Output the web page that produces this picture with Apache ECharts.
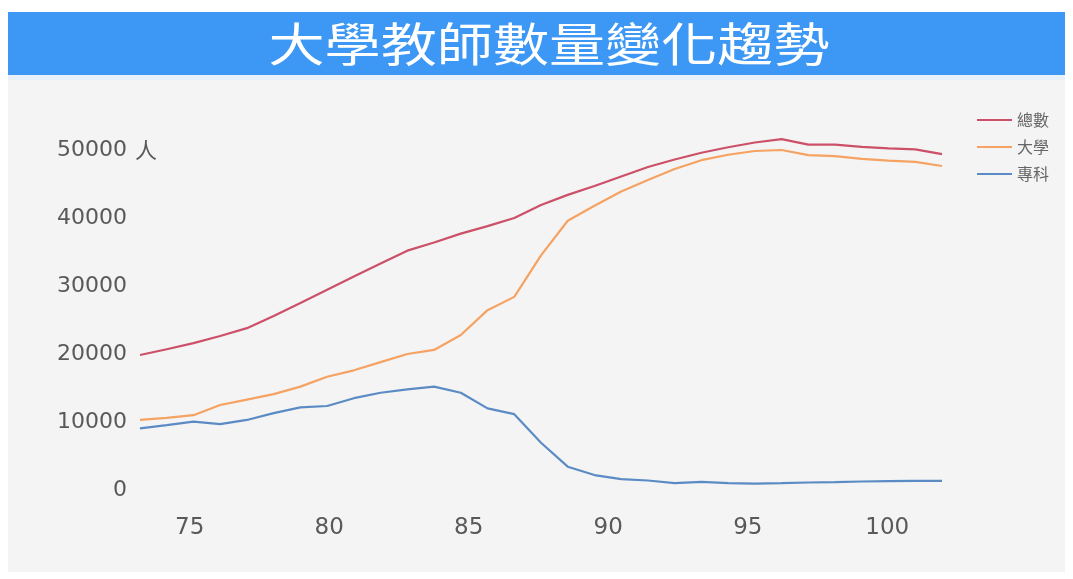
<!DOCTYPE html>
<html>
<head>
<meta charset="utf-8">
<script src="https://cdn.jsdelivr.net/npm/echarts@6/dist/echarts.min.js"></script>
<style>
html,body{margin:0;padding:0;background:#ffffff;}
#chart{width:1073px;height:579px;}
</style>
</head>
<body>
<div id="chart"></div>
<script>
// Academic years (ROC calendar)
const years = ['73','74','75','76','77','78','79','80','81','82','83','84','85','86','87','88','89','90','91','92','93','94','95','96','97','98','99','100','101','102','103'];
// 總數
const total = [19850,20700,21600,22650,23800,25600,27500,29450,31400,33300,35200,36400,37700,38800,40000,41900,43400,44700,46100,47500,48600,49600,50400,51100,51600,50800,50800,50450,50250,50100,49400];
// 大學
const univ = [10300,10600,11000,12500,13300,14100,15200,16650,17600,18800,20000,20600,22800,26450,28400,34500,39600,41800,43900,45600,47200,48500,49300,49850,50000,49250,49100,48700,48450,48250,47650];
// 專科
const junior = [9070,9550,10050,9700,10300,11300,12150,12350,13500,14300,14800,15200,14300,12000,11150,6950,3430,2200,1600,1400,1000,1200,1000,950,1000,1100,1150,1250,1300,1330,1350];
const seriesNames = ['總數','大學','專科'];
const titleText = '大學教師數量變化趨勢';
const unitText = '人';

const FONT = '"DejaVu Sans", "Noto Sans CJK TC", sans-serif';
const CJK = '"Noto Sans CJK TC", sans-serif';
const chart = echarts.init(document.getElementById('chart'), null, {renderer:'canvas'});
chart.setOption({
  backgroundColor: '#ffffff',
  animation: false,
  textStyle: {fontFamily: FONT},
  graphic: [
    {type:'rect', z:-10, shape:{x:8,y:12,width:1057,height:63}, style:{fill:'#3d97f4'}},
    {type:'rect', z:-10, shape:{x:8,y:75,width:1057,height:5}, style:{fill:'#e8f1fa'}},
    {type:'rect', z:-10, shape:{x:8,y:80,width:1057,height:492}, style:{fill:'#f4f4f4'}},
    {type:'text', z:10, x:549, y:44, scaleX:1.22,
      style:{text:titleText, fill:'#ffffff', fontSize:46, fontFamily:CJK, align:'center', verticalAlign:'middle'}}
  ],
  legend: {
    orient: 'vertical',
    left: 972, top: 107,
    icon: 'rect',
    itemWidth: 35, itemHeight: 2,
    itemGap: 11,
    textStyle: {color:'#666666', fontSize:16, fontFamily:CJK},
    data: seriesNames
  },
  grid: {left:140, right:131, top:116, bottom:89, containLabel:false},
  xAxis: [
    {
      type:'category', data: years, boundaryGap:false, position:'bottom',
      axisLine:{show:false}, axisTick:{show:false}, axisLabel:{show:false}, splitLine:{show:false}
    },
    {
      type:'value', min:73.22, max:101.96, position:'bottom', splitNumber:5,
      axisLine:{show:false}, axisTick:{show:false}, splitLine:{show:false},
      axisLabel:{
        margin:27, fontSize:23, color:'#595959', fontFamily:FONT,
        formatter: function(v){ return (Math.abs(v % 5) < 1e-9) ? String(v) : ''; }
      }
    }
  ],
  yAxis: {
    type:'value', min:0, max:55000, interval:10000,
    axisLine:{show:false}, axisTick:{show:false}, splitLine:{show:false},
    axisLabel:{
      margin:-17,
      formatter: function(v){
        if (v > 50000) return '';
        if (v === 50000) return '{v|' + v + '}{u|' + unitText + '}';
        return '{v|' + v + '}{u|}';
      },
      rich:{
        v:{fontSize:22, color:'#595959', fontFamily:FONT},
        u:{fontSize:22, color:'#595959', width:24, padding:[0,0,0,6], fontFamily:CJK}
      }
    }
  },
  series: [
    {name:seriesNames[0], type:'line', data:total, xAxisIndex:0, symbol:'none', color:'#cc5068', lineStyle:{width:2.2, color:'#cc5068'}},
    {name:seriesNames[1], type:'line', data:univ, xAxisIndex:0, symbol:'none', color:'#f5a262', lineStyle:{width:2.2, color:'#f5a262'}},
    {name:seriesNames[2], type:'line', data:junior, xAxisIndex:0, symbol:'none', color:'#5b8bc4', lineStyle:{width:2.2, color:'#5b8bc4'}}
  ]
});
</script>
</body>
</html>
